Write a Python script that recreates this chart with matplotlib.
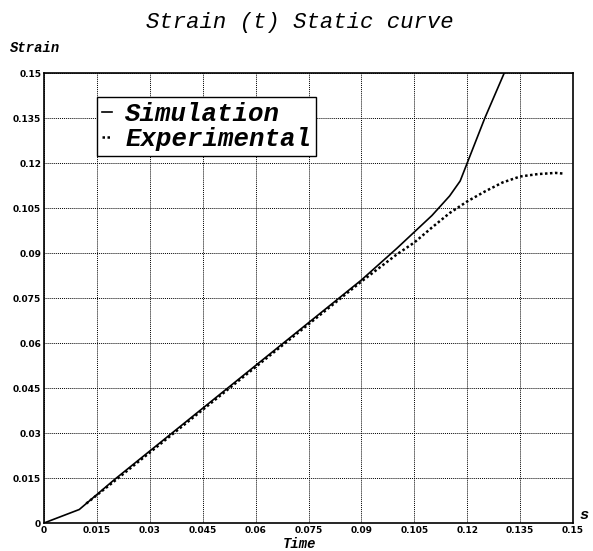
import numpy as np
import matplotlib
matplotlib.use("Agg")
import matplotlib.pyplot as plt

# simulation curve (time in s, strain)
t_sim = [0, 0.01, 0.02, 0.03, 0.04, 0.05, 0.06, 0.07, 0.08, 0.09, 0.1,
         0.105, 0.11, 0.115, 0.118, 0.12, 0.125, 0.1305]
s_sim = [0, 0.0045, 0.0145, 0.024, 0.0335, 0.043, 0.0525, 0.062, 0.0715,
         0.081, 0.0915, 0.097, 0.1025, 0.109, 0.114, 0.120, 0.135, 0.15]

# experimental curve
t_exp = [0.012, 0.02, 0.03, 0.04, 0.05, 0.06, 0.07, 0.08, 0.09, 0.1, 0.105,
         0.11, 0.115, 0.12, 0.125, 0.13, 0.135, 0.14, 0.145, 0.147]
s_exp = [0.0065, 0.014, 0.0235, 0.033, 0.0425, 0.052, 0.0615, 0.071, 0.0805,
         0.0895, 0.0935, 0.0985, 0.1033, 0.1072, 0.1105, 0.1135, 0.1155,
         0.1163, 0.1167, 0.1165]

ticks = [0, 0.015, 0.03, 0.045, 0.06, 0.075, 0.09, 0.105, 0.12, 0.135, 0.15]
tick_labels = ["0", "0.015", "0.03", "0.045", "0.06", "0.075", "0.09",
               "0.105", "0.12", "0.135", "0.15"]

mono = "Liberation Mono"

fig = plt.figure(figsize=(5.93, 5.51), dpi=100)
ax = fig.add_axes([0.0742, 0.0508, 0.8921, 0.8167])

ax.plot(t_sim, s_sim, color="black", lw=1.2, label="Simulation")
ax.plot(t_exp, s_exp, color="black", lw=1.8, ls=(0, (1, 1)), label="Experimental")

ax.set_xlim(0, 0.15)
ax.set_ylim(0, 0.15)
ax.set_xticks(ticks)
ax.set_xticklabels(tick_labels)
ax.set_yticks(ticks)
ax.set_yticklabels(tick_labels)
ax.tick_params(length=0, pad=2, labelsize=6.5)
for lab in ax.get_xticklabels() + ax.get_yticklabels():
    lab.set_fontweight("bold")
ax.grid(True, color="black", ls=(0, (1, 1)), lw=0.7)
for sp in ax.spines.values():
    sp.set_linewidth(1.2)

leg = ax.legend(loc="upper left", bbox_to_anchor=(0.1, 0.947), borderaxespad=0,
                handlelength=0.4, handletextpad=0.5, fancybox=False,
                labelspacing=0.05, borderpad=0.2,
                framealpha=1, edgecolor="black",
                prop={"family": mono, "style": "italic", "weight": "bold", "size": 18.5})
leg.get_frame().set_linewidth(1.0)

fig.text(0.506, 0.96, "Strain (t) Static curve", ha="center", va="center",
         family=mono, style="italic", fontsize=16)
fig.text(0.017, 0.913, "Strain", ha="left", va="center",
         family=mono, style="italic", weight="bold", fontsize=10)
fig.text(0.506, 0.013, "Time", ha="center", va="center",
         family=mono, style="italic", weight="bold", fontsize=10)
fig.text(0.985, 0.065, "s", ha="center", va="center",
         family=mono, style="italic", weight="bold", fontsize=11)

fig.savefig("out.png", dpi=100)
